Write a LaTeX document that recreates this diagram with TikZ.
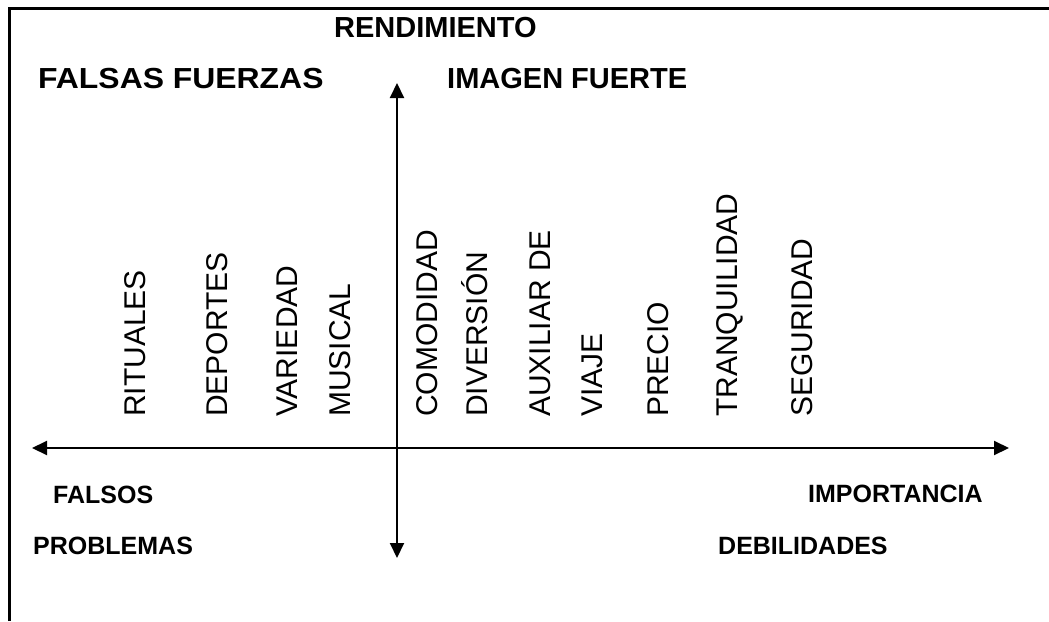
\documentclass[tikz,border=0pt]{standalone}
\usepackage{fontspec}
\setmainfont{Liberation Sans}
\usetikzlibrary{arrows.meta}

\begin{document}
\begin{tikzpicture}[x=1pt,y=-1pt,
        title/.style={font=\bfseries\fontsize{29}{32}\selectfont,inner sep=0pt,anchor=west},
        corner/.style={font=\bfseries\fontsize{25}{30}\selectfont,inner sep=0pt,anchor=west},
        factor/.style={font=\fontsize{30}{34}\selectfont,inner sep=0pt,rotate=90,anchor=base west},
        axis/.style={line width=2pt,{Triangle[length=15pt,width=14pt]}-{Triangle[length=15pt,width=14pt]}}]
        \useasboundingbox (0,0) rectangle (1049,621);
        \coordinate (frametl) at (9,8);
        \coordinate (frametr) at (1049,8);
        \coordinate (framebl) at (9,621);
        \draw[line width=3pt] (framebl) -- (frametl) -- (frametr);
        \coordinate (top) at (397,83);
        \coordinate (bottom) at (397,558);
        \coordinate (left) at (32,448);
        \coordinate (right) at (1009,448);
        \draw[axis] (top) -- (bottom);
        \draw[axis] (left) -- (right);
        \node[title] (rend) at (334,28) {RENDIMIENTO};
        \node[title,xscale=1.1] (falsasf) at (38,79) {FALSAS FUERZAS};
        \node[title] (imagen) at (447,79) {IMAGEN FUERTE};
        \node[corner] (falsos) at (53,495) {FALSOS};
        \node[corner] (problemas) at (33,546) {PROBLEMAS};
        \node[corner] (importancia) at (808,494) {IMPORTANCIA};
        \node[corner] (debilidades) at (718,546) {DEBILIDADES};
        \node[factor] (rituales) at (145,417) {RITUALES};
        \node[factor] (deportes) at (227,417) {DEPORTES};
        \node[factor] (variedad) at (297,417) {VARIEDAD};
        \node[factor] (musical) at (350,417) {MUSICAL};
        \node[factor] (comodidad) at (437,417) {COMODIDAD};
        \node[factor] (diversion) at (487,417) {DIVERSIÓN};
        \node[factor] (auxiliar) at (550,417) {AUXILIAR DE};
        \node[factor] (viaje) at (602,417) {VIAJE};
        \node[factor] (precio) at (668,417) {PRECIO};
        \node[factor] (tranq) at (737,417) {TRANQUILIDAD};
        \node[factor] (seguridad) at (812,417) {SEGURIDAD};
\end{tikzpicture}
\end{document}
